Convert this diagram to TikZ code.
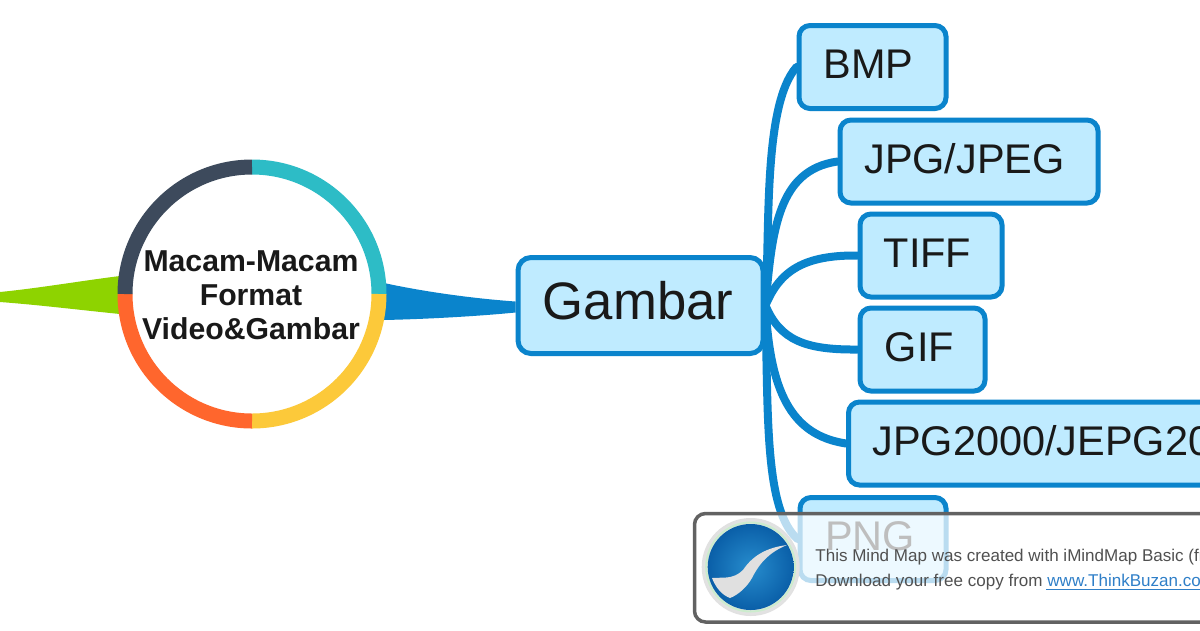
\documentclass[tikz,border=0pt]{standalone}
\usepackage{fontspec}
\setmainfont{Liberation Sans}
\definecolor{brblue}{HTML}{0A84CC}
\definecolor{boxfill}{HTML}{BFEBFF}
\definecolor{ringnavy}{HTML}{3D4A5C}
\definecolor{ringteal}{HTML}{2DBCC6}
\definecolor{ringyellow}{HTML}{FCC93A}
\definecolor{ringorange}{HTML}{FF662D}
\definecolor{leafgreen}{HTML}{8ED300}
\definecolor{wmgray}{HTML}{626262}
\definecolor{wmtext}{HTML}{505050}
\definecolor{wmlink}{HTML}{2F7FC8}
\definecolor{logoblue}{HTML}{0F80C8}
\definecolor{logodark}{HTML}{0A5FA8}
\newlength{\pxu}\setlength{\pxu}{0.02cm}
\pgfdeclarelayer{under}
\pgfsetlayers{under,main}
\tikzset{
  x=0.02cm,y=-0.02cm,
  leaf/.style={draw=brblue,fill=boxfill,line width=5\pxu,rounded corners=11\pxu,inner sep=0pt,
    font=\fontsize{23.6pt}{25pt}\selectfont,text=black!90,text height=53\pxu,text depth=30\pxu},
  branch/.style={draw=brblue,line width=8\pxu,line cap=round},
  ringseg/.style={line width=15\pxu},
  title/.style={font=\bfseries\fontsize{17.2pt}{19.3pt}\selectfont,align=center,text=black!90,inner sep=0pt},
  wmline/.style={font=\fontsize{9.7pt}{10pt}\selectfont,text=wmtext,anchor=base west,inner sep=0pt},
}
\begin{document}
\begin{tikzpicture}
\useasboundingbox (0,0) rectangle (1200,630);
\clip (0,0) rectangle (1200,630);
% nodes
\node[leaf,minimum width=147\pxu] (bmp) at (872.5,67) {BMP\hspace*{8\pxu}};
\node[leaf,minimum width=258\pxu] (jpg) at (969,161.5) {JPG/JPEG\hspace*{9\pxu}};
\node[leaf,minimum width=142\pxu] (tiff) at (931,255.5) {TIFF\hspace*{7\pxu}};
\node[leaf,minimum width=125\pxu] (gif) at (922.5,349.5) {GIF\hspace*{6\pxu}};
\node[leaf,minimum width=420\pxu,anchor=west,align=left] (jp2) at (846,443.5) {\hspace*{24\pxu}JPG2000/JEPG20\hspace*{100\pxu}};
\node[leaf,minimum width=146\pxu] (png) at (873,539) {PNG\hspace*{6\pxu}};
\node[leaf,minimum width=245\pxu,font=\fontsize{30pt}{31pt}\selectfont,rounded corners=13\pxu,text height=62\pxu,text depth=34\pxu] (gam) at (640.5,305.5) {Gambar\hspace*{5\pxu}};
\node[title] (centre) at (251,295) {Macam-Macam\\Format\\Video\&Gambar};
\coordinate (greenend) at (0,297);
\begin{pgfonlayer}{under}
\fill[white] (0,0) rectangle (1200,630);
% tapered links
\fill[brblue] (384,283) .. controls (430,293) and (480,299) .. ([yshift=4\pxu]gam.west)
  -- ([yshift=-7\pxu]gam.west) .. controls (480,316) and (430,319) .. (384,320) -- cycle;
\fill[leafgreen] ([yshift=5\pxu]greenend) .. controls (40,288) and (80,281) .. (120,276)
  -- (120,314) .. controls (80,310) and (40,305) .. ([yshift=-5\pxu]greenend) -- cycle;
% branches
\draw[branch] (gam.east) .. controls (770,230) and (763,105) .. (bmp.west);
\draw[branch] (gam.east) .. controls (772,230) and (778,170) .. (jpg.west);
\draw[branch] (gam.east) .. controls (780,270) and (805,255) .. (tiff.west);
\draw[branch] (gam.east) .. controls (780,340) and (805,350) .. (gif.west);
\draw[branch] (gam.east) .. controls (770,390) and (790,435) .. (jp2.west);
\draw[branch] (gam.east) .. controls (768,420) and (765,510) .. (png.west);
\end{pgfonlayer}
% ring
\draw[ringseg,ringteal] (252,167) arc (-90:0:127);
\draw[ringseg,ringyellow] (379,294) arc (0:90:127);
\draw[ringseg,ringorange] (252,421) arc (90:180:127);
\draw[ringseg,ringnavy] (125,294) arc (180:270:127);
% watermark
\draw[draw=wmgray,line width=3.5\pxu,fill=white,fill opacity=0.72,rounded corners=11\pxu] (694.5,513.5) rectangle (1230,622);
\shade[inner color=white,outer color=white!88!black] (750.7,567) circle (49);
\draw[line width=2\pxu,draw=white!75!yellow!80!cyan] (750.7,567) circle (44.5);
\shade[inner color=logoblue!90!white,outer color=logodark] (750.7,567) circle (43);
\fill[white!88!black] (787,545) .. controls (772,547) and (755,552) .. (743,570)
  .. controls (733,580) and (722,577) .. (712,578)
  .. controls (716,588) and (722,595) .. (730,598)
  .. controls (738,595) and (747,587) .. (752,578)
  .. controls (760,562) and (770,552) .. (787,545) -- cycle;
\node[wmline] (wm1) at (815,561) {This Mind Map was created with iMindMap Basic (fr};
\node[wmline] (wm2) at (815,586) {Download your free copy from {\color{wmlink}www.ThinkBuzan.co}};
\draw[wmlink,line width=1\pxu] (1046,589) -- (1200,589);
\end{tikzpicture}
\end{document}
